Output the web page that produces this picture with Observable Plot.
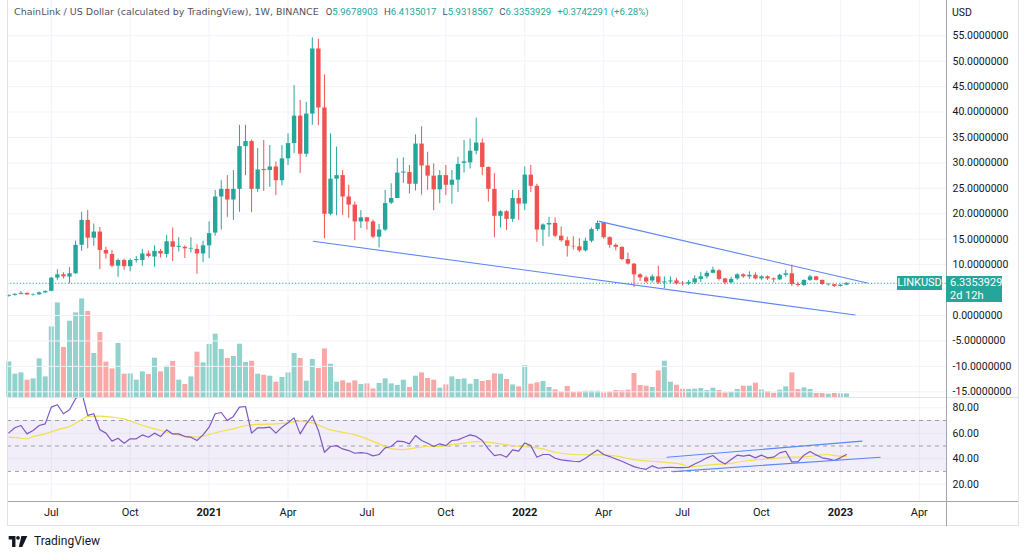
<!DOCTYPE html>
<html><head><meta charset="utf-8">
<script src="https://cdn.jsdelivr.net/npm/d3@7"></script>
<script src="https://cdn.jsdelivr.net/npm/@observablehq/plot@0.6"></script>
<style>
body{margin:0;background:#fff;font-family:Roboto,"Liberation Sans",sans-serif;}
#wrap{position:relative;width:1024px;height:556px;overflow:hidden;background:#fff;}
#wrap svg{position:absolute;left:0;}
.ln{position:absolute;}
#hdr{position:absolute;left:14px;top:6px;font-family:Roboto,sans-serif;font-size:9.6px;color:#50535e;white-space:nowrap;}
#hdr .t{font-family:"DejaVu Sans",sans-serif;font-size:9.5px;margin-right:7px;}
#hdr .v{color:#26a69a;margin-right:6px;}
#usd{position:absolute;left:952px;top:6px;font-size:10.5px;color:#131722;}
.tag{position:absolute;background:#26a69a;color:#fff;font-size:11px;line-height:13px;}
#logo{position:absolute;left:8px;top:533px;height:16px;display:flex;align-items:center;gap:6px;font-size:12px;color:#131722;}
</style></head>
<body><div id="wrap"></div>
<script>
// ---- data (weekly LINK/USD, first bar week of 2020-05-18) ----
const startDate = "2020-05-18";
const opens = [3.78,3.95,4.15,4.35,3.98,4.08,4.45,4.75,7.35,8.00,
7.55,8.20,13.80,18.70,15.20,16.40,12.80,12.00,9.70,10.80,
9.60,10.80,10.80,12.10,11.50,12.60,12.00,14.50,13.40,13.40,
13.05,13.00,12.10,13.70,16.20,23.30,24.80,22.70,24.80,33.20,
34.20,24.80,28.70,28.50,29.20,26.50,30.80,33.80,39.20,31.70,
39.60,52.40,40.80,19.90,26.80,27.50,23.30,21.70,18.40,19.20,
18.40,15.40,16.80,22.10,23.00,28.00,28.10,25.80,33.70,29.40,
27.40,24.70,27.50,25.60,26.60,29.90,30.00,32.30,33.90,29.10,
24.80,19.50,20.40,18.90,23.00,21.90,27.60,25.40,16.80,17.80,
18.10,15.60,14.70,13.60,13.50,12.70,14.60,16.90,18.20,15.30,
13.80,13.40,11.00,10.10,8.00,7.40,6.80,7.60,6.40,6.60,
6.80,6.35,6.20,6.40,7.10,7.60,8.30,8.80,7.20,6.40,
7.20,8.00,7.60,7.90,7.20,7.60,7.20,7.00,7.90,8.20,
6.10,5.90,6.90,7.60,6.90,5.98,6.05,5.72,5.9678903];
const highs = [4.05,4.30,4.70,4.45,4.25,4.60,4.85,7.50,9.00,8.40,
9.40,14.60,20.30,20.70,18.00,17.30,13.40,12.80,11.10,11.10,
11.10,11.60,13.00,12.70,13.70,13.00,15.70,17.20,15.30,13.70,
15.30,13.90,14.60,18.40,24.60,26.50,27.50,28.50,37.40,37.40,
34.50,32.80,34.40,33.40,30.20,33.40,35.70,45.20,42.30,41.90,
54.60,54.30,47.30,35.70,33.10,28.50,25.60,22.30,20.60,19.30,
18.80,17.90,24.60,25.90,30.80,31.00,29.50,35.50,37.10,32.10,
29.80,28.50,29.50,28.50,31.10,34.40,34.70,38.80,34.70,29.20,
27.90,20.60,20.60,24.60,24.60,29.20,29.50,25.80,18.00,19.30,
19.20,17.40,15.40,15.50,15.10,15.20,17.20,18.60,18.30,15.50,
14.10,13.50,12.30,10.20,8.20,7.70,8.00,9.70,7.60,7.60,
7.30,6.70,6.90,7.80,8.50,8.70,9.50,9.00,7.30,7.50,
8.20,8.20,8.60,8.40,7.80,7.80,7.40,8.10,8.90,9.90,
6.50,7.00,7.90,7.70,7.00,6.30,6.10,6.10,6.4135017];
const lows = [3.60,3.80,4.05,3.95,3.80,3.95,4.30,4.70,6.90,7.20,
6.20,8.10,12.60,13.10,13.60,9.00,11.10,9.40,7.50,8.90,
8.60,10.30,9.70,11.30,9.50,11.30,11.30,10.60,12.50,11.20,
12.30,8.10,10.40,11.20,15.60,16.80,19.30,18.70,20.30,27.50,
20.20,24.20,24.40,25.20,23.60,25.50,29.50,31.80,27.90,31.10,
37.40,37.30,15.10,19.60,19.60,19.70,19.10,14.70,17.10,16.80,
15.10,13.30,16.50,21.80,23.00,26.00,23.90,24.50,23.70,24.60,
20.60,22.00,23.60,21.90,24.20,28.00,28.80,31.60,27.50,22.30,
15.30,17.20,16.70,18.30,18.70,20.60,24.20,14.40,13.60,15.40,
15.30,14.40,11.50,12.90,12.40,12.50,14.30,16.50,15.00,13.20,
12.70,10.80,9.90,5.50,6.70,6.30,6.40,6.10,5.30,6.20,
6.00,5.80,5.90,6.10,6.50,7.20,8.20,6.80,6.00,6.20,
6.90,7.30,7.10,7.00,6.90,6.90,6.40,6.90,7.50,5.70,
5.60,5.70,6.70,6.80,5.90,5.80,5.50,5.60,5.9318567];
const closes = [3.95,4.15,4.35,4.05,4.08,4.45,4.70,7.35,8.00,7.60,
8.20,13.80,18.70,15.20,16.40,12.80,12.10,9.70,10.80,9.60,
10.80,11.00,12.10,11.60,12.60,12.10,14.50,13.40,13.60,13.10,
13.20,12.10,13.70,16.10,23.30,24.80,22.70,24.80,33.20,34.20,
24.80,28.60,28.50,29.20,26.50,30.80,33.80,39.20,31.70,39.60,
52.40,40.80,19.90,26.80,27.50,23.30,21.70,18.40,19.20,18.40,
15.40,16.80,22.00,23.00,28.00,28.20,25.80,33.70,29.40,27.40,
24.70,27.50,25.60,26.60,29.70,30.20,32.30,33.90,29.10,24.80,
19.50,20.40,18.90,23.00,21.90,27.60,25.40,16.80,17.80,18.10,
15.60,14.70,13.60,13.50,12.70,14.60,16.90,18.10,15.30,13.80,
13.40,11.00,10.10,8.00,7.40,6.60,7.60,6.40,6.60,6.80,
6.20,6.20,6.50,7.20,7.60,8.30,8.90,7.10,6.40,7.10,
8.00,7.60,7.90,7.20,7.60,7.20,7.00,7.90,8.20,6.10,
5.90,6.90,7.60,6.90,6.10,6.05,5.72,5.9611638,6.3353929];
const volumes = [35.6,23.3,24.6,17.3,18.6,38.6,20.6,70.6,94.6,50.0,
76.3,84.6,98.6,86.0,44.0,65.0,35.3,28.6,54.0,23.3,
23.6,17.3,25.6,23.0,39.3,25.6,31.3,36.0,17.3,13.0,
20.6,45.3,34.6,53.0,63.3,48.0,39.0,41.0,53.3,35.0,
36.3,23.3,22.3,21.3,15.3,20.0,24.6,44.0,39.0,16.3,
38.0,29.0,48.6,33.3,15.3,16.6,14.3,16.6,13.0,13.6,
8.6,14.0,18.6,13.6,12.0,17.3,10.0,21.3,24.6,19.0,
17.3,9.3,12.6,20.6,18.0,18.6,13.3,18.0,16.0,17.0,
23.6,23.3,18.0,12.6,10.6,32.0,13.3,14.6,16.0,10.0,
7.6,5.6,11.0,5.3,5.6,6.3,6.3,6.3,4.6,5.3,
7.0,6.6,7.3,24.0,12.0,11.3,10.0,26.6,36.3,15.3,
12.3,8.3,8.0,8.3,9.0,7.0,9.3,7.0,4.6,5.3,
8.0,11.3,11.3,14.3,7.6,6.0,4.3,7.3,10.6,24.6,
8.0,9.6,8.0,4.0,4.0,3.3,4.0,3.6,3.6];
const rsiValues = [60.3,64.3,66.1,59.5,62.2,66.1,67.4,80.5,82.4,75.3,
78.4,87.1,92.3,74.0,75.3,62.7,60.1,53.8,56.1,52.2,
55.6,55.6,58.7,56.9,60.1,57.4,62.7,59.5,59.5,57.4,
56.9,54.3,58.7,64.8,75.3,76.3,70.0,73.2,80.5,81.0,
60.1,64.3,64.3,64.8,60.1,64.8,68.2,72.1,59.5,67.4,
73.7,62.2,45.1,49.6,50.3,47.7,46.4,44.3,44.8,44.3,
42.2,43.3,48.5,49.6,53.8,53.5,51.7,58.2,54.3,52.2,
49.6,51.7,50.3,54.3,54.8,56.9,58.7,57.5,54.3,47.7,
42.5,43.3,41.2,46.9,45.9,52.4,50.3,41.2,43.3,43.3,
40.4,39.1,38.5,38.0,37.7,40.4,43.8,46.9,43.3,41.7,
39.8,38.0,35.9,33.8,32.5,31.7,34.4,32.5,33.0,33.3,
33.0,33.0,33.3,35.9,38.0,40.7,42.5,38.5,35.9,39.3,
42.8,42.0,42.8,40.7,42.8,40.7,41.2,44.6,45.9,37.5,
37.5,42.8,45.7,43.0,40.7,39.9,38.6,40.7,43.3];
// RSI-based MA, read at sampled weeks (week index from first bar)
const maWeeks = [0,2,3,4,6,8,10,11,12,13,15,17,19,21,23,25,27,29,31,33,35,37,39,41,44,46,48,50,53,55,57,59,61,63,65,67,69,71,73,75,77,78,81,83,85,88,90,93,96,98,101,103,106,108,111,112,114,116,119,121,123,126,128,130,132,135,136,138];
const maValues = [56.9,56.1,55.6,57.4,59.5,62.7,65.3,67.9,70.6,73.2,73.4,72.6,71.3,67.9,64.8,62.2,59.5,57.7,56.9,59.0,61.6,63.5,66.1,66.9,67.4,68.2,69.5,68.2,62.7,60.8,58.7,55.6,51.7,47.7,47.2,48.5,49.6,49.6,51.1,52.2,53.5,53.3,51.7,50.3,49.6,47.7,45.1,43.3,43.0,43.0,41.2,39.3,38.0,37.2,35.4,33.8,34.4,35.4,36.4,38.0,39.1,40.1,41.2,41.2,41.9,43.3,42.5,41.9];
// drawn trend lines
const priceTrendDates = [["2021-05-04","2023-01-19"],["2022-03-30","2023-02-02"]];
const priceTrendValues = [[14.6,0.1],[18.5,6.4]];
const rsiTrendDates = [["2022-06-16","2023-01-27"],["2022-06-23","2023-02-17"]];
const rsiTrendValues = [[41.2,53.8],[29.9,41.2]];
// ticks
const priceTicks = [-15,-10,-5,0,5,10,15,20,25,30,35,40,45,50,55];
const rsiTicks = [20,40,60,80];
const rsiLevels = [30,50,70];
const timeTickDates = ["2020-07-06","2020-10-05","2021-01-04","2021-04-05","2021-07-05","2021-10-04","2022-01-03","2022-04-04","2022-07-04","2022-10-03","2023-01-02","2023-04-03"];
const timeTickLabels = ["Jul","Oct","2021","Apr","Jul","Oct","2022","Apr","Jul","Oct","2023","Apr"];

// ---- build ----
const UP = "#26a69a", DOWN = "#ef5350", GRID = "#f0f3fa";
const DAY = 864e5;
const t0 = new Date(startDate + "T00:00:00Z").getTime();
const weekDate = k => new Date(t0 + k * 7 * DAY);
const bars = opens.map((o, i) => ({date: weekDate(i), open: o, high: highs[i], low: lows[i], close: closes[i], volume: volumes[i], rsi: rsiValues[i]}));
const dirColor = d => d.close >= d.open ? UP : DOWN;
const xDomain = [weekDate(-0.214), weekDate(154.48)];
const tickDates = timeTickDates.map(s => new Date(s + "T00:00:00Z"));
const labelOf = new Map(tickDates.map((d, i) => [+d, timeTickLabels[i]]));
const yearTicks = tickDates.filter((d, i) => /^\d{4}$/.test(timeTickLabels[i]));
const monthTicks = tickDates.filter((d, i) => !/^\d{4}$/.test(timeTickLabels[i]));
const maData = maWeeks.map((k, i) => ({date: weekDate(k), value: maValues[i]}));
const toD = s => new Date(s + "T00:00:00Z");
const priceTrend = priceTrendDates.flatMap((ds, j) => ds.map((s, i) => ({id: j, date: toD(s), value: priceTrendValues[j][i]})));
const rsiTrend = rsiTrendDates.flatMap((ds, j) => ds.map((s, i) => ({id: j, date: toD(s), value: rsiTrendValues[j][i]})));
const last = bars[bars.length - 1];
const prev = bars[bars.length - 2];
// the last-price tag hides the tick label nearest to it (as on the reference)
const priceLabelTicks = priceTicks.filter(v => Math.abs(v - last.close) > 3);

const W = 1024, ML = 7, MR = 78;
const baseStyle = {background: "transparent", fontFamily: "Roboto, sans-serif", fontSize: "11px", color: "#131722", overflow: "visible"};
const wrap = document.getElementById("wrap");

// volume layer
const volPlot = Plot.plot({
  width: W, height: 397, marginLeft: ML, marginRight: MR, marginTop: 0, marginBottom: 0,
  x: {type: "utc", domain: xDomain, axis: null},
  y: {domain: [0, 397], axis: null},
  color: {type: "identity"},
  style: baseStyle,
  marks: [
    Plot.ruleX(bars, {x: "date", y1: 0, y2: "volume", stroke: dirColor, strokeOpacity: 0.5, strokeWidth: 5})
  ]
});
volPlot.style.top = "0px";

// price layer
const pricePlot = Plot.plot({
  width: W, height: 397, marginLeft: ML, marginRight: MR, marginTop: 0, marginBottom: 0,
  x: {type: "utc", domain: xDomain, axis: null},
  y: {domain: [-16.12, 61.93]},
  color: {type: "identity"},
  style: baseStyle,
  marks: [
    Plot.ruleX(tickDates, {stroke: GRID}),
    Plot.ruleY(priceTicks, {stroke: GRID}),
    Plot.ruleX(bars, {x: "date", y1: "low", y2: "high", stroke: dirColor, strokeWidth: 1}),
    Plot.ruleX(bars, {x: "date", y1: "open", y2: "close", stroke: dirColor, strokeWidth: 4.4}),
    Plot.line(priceTrend, {x: "date", y: "value", z: "id", stroke: "#5d85f5", strokeWidth: 1.1}),
    Plot.ruleY([last.close], {stroke: UP, strokeDasharray: "1.2,2", strokeWidth: 1}),
    Plot.axisY(priceLabelTicks, {anchor: "right", tickSize: 0, tickPadding: 6, label: null, fontSize: 10.5, tickFormat: d => d.toFixed(7)})
  ]
});
pricePlot.style.top = "0px";

// RSI layer with time axis
const rsiPlot = Plot.plot({
  width: W, height: 127, marginLeft: ML, marginRight: MR, marginTop: 0, marginBottom: 24,
  x: {type: "utc", domain: xDomain},
  y: {domain: [6.4, 87.3]},
  style: baseStyle,
  marks: [
    Plot.ruleX(tickDates, {stroke: GRID}),
    Plot.ruleY(rsiTicks, {stroke: GRID}),
    Plot.rect([rsiLevels], {x1: () => xDomain[0], x2: () => xDomain[1], y1: d => d[0], y2: d => d[2], fill: "#7e57c2", fillOpacity: 0.1}),
    Plot.ruleY(rsiLevels, {stroke: "#787b86", strokeOpacity: 0.7, strokeDasharray: "4,4"}),
    Plot.line(maData, {x: "date", y: "value", stroke: "#f2de4e", strokeWidth: 1.2, curve: "monotone-x"}),
    Plot.line(bars, {x: "date", y: "rsi", stroke: "#7e57c2", strokeWidth: 1.2, clip: true}),
    Plot.line(rsiTrend, {x: "date", y: "value", z: "id", stroke: "#5d85f5", strokeWidth: 1.1}),
    Plot.axisY(rsiTicks, {anchor: "right", tickSize: 0, tickPadding: 6, label: null, fontSize: 10.5, tickFormat: d => d.toFixed(2)}),
    Plot.axisX(monthTicks, {anchor: "bottom", tickSize: 0, tickPadding: 7, label: null, fontSize: 11, tickFormat: d => labelOf.get(+d)}),
    Plot.axisX(yearTicks, {anchor: "bottom", tickSize: 0, tickPadding: 7, label: null, fontSize: 11, fontWeight: "bold", tickFormat: d => labelOf.get(+d)})
  ]
});
rsiPlot.style.top = "398px";

wrap.append(volPlot, pricePlot, rsiPlot);

// frame lines (styling)
function line(l, t, w, h, c) { const d = document.createElement("div"); d.className = "ln"; Object.assign(d.style, {left: l + "px", top: t + "px", width: w + "px", height: h + "px", background: c}); wrap.append(d); }
line(7, 397, 1011, 1, "#e0e3eb");
line(7, 501, 1011, 1, "#a3a6af");
line(7, 525, 1011, 1, "#e0e3eb");
line(7, 0, 1, 526, "#e0e3eb");
line(1018, 0, 1, 526, "#e0e3eb");
line(946, 0, 1, 526, "#a3a6af");

// header legend
const fmt = v => v.toFixed(7);
const chg = last.close - prev.close;
const hdr = document.createElement("div");
hdr.id = "hdr";
hdr.innerHTML = `<span class="t">ChainLink / US Dollar (calculated by TradingView), 1W, BINANCE</span>O<span class="v">${fmt(last.open)}</span>H<span class="v">${fmt(last.high)}</span>L<span class="v">${fmt(last.low)}</span>C<span class="v">${fmt(last.close)}</span><span class="v">${chg >= 0 ? "+" : ""}${fmt(chg)} (${chg >= 0 ? "+" : ""}${(chg / prev.close * 100).toFixed(2)}%)</span>`;
wrap.append(hdr);

const usd = document.createElement("div"); usd.id = "usd"; usd.textContent = "USD"; wrap.append(usd);

// last price tags
const yLast = pricePlot.scale("y").apply(last.close);
const tag1 = document.createElement("div"); tag1.className = "tag";
Object.assign(tag1.style, {left: "897px", top: (yLast - 7) + "px", width: "45px", height: "14px", textAlign: "center", lineHeight: "14px"});
tag1.textContent = "LINKUSD"; wrap.append(tag1);
const tag2 = document.createElement("div"); tag2.className = "tag";
Object.assign(tag2.style, {left: "946px", top: (yLast - 7) + "px", width: "56px", height: "26px", paddingLeft: "4px", boxSizing: "border-box"});
tag2.innerHTML = `${fmt(last.close)}<br>2d 12h`; wrap.append(tag2);

// footer logo
const logo = document.createElement("div"); logo.id = "logo";
logo.innerHTML = `<svg width="20" height="11" viewBox="0 0 22 13" style="position:static"><path d="M0 0h8v13H4V4H0z" fill="#131722"/><circle cx="11" cy="2.2" r="2.2" fill="#131722"/><path d="M15 0h7l-6 13h-4z" fill="#131722"/></svg><span>TradingView</span>`;
wrap.append(logo);
</script>
</body></html>
